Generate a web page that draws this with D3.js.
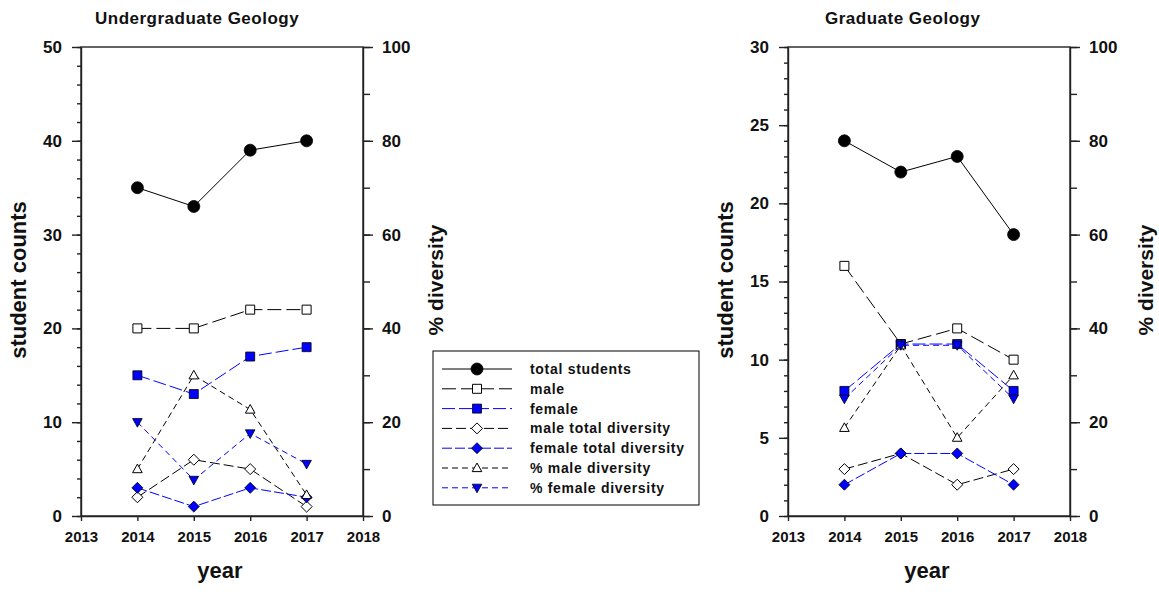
<!DOCTYPE html>
<html>
<head>
<meta charset="utf-8">
<script src="https://cdn.jsdelivr.net/npm/d3@7"></script>
<style>
  body { margin: 0; background: #fff; }
  svg { display: block; }
  text { font-family: Arial, "Liberation Sans", sans-serif; fill: #111; }
</style>
</head>
<body>
<div id="chart"></div>
<script>
// data
var years = [2014, 2015, 2016, 2017];
var yearTicks = [2013, 2014, 2015, 2016, 2017, 2018];

var ugTotal     = [35, 33, 39, 40];
var ugMale      = [20, 20, 22, 22];
var ugFemale    = [15, 13, 17, 18];
var ugMaleDiv   = [2, 6, 5, 1];
var ugFemaleDiv = [3, 1, 3, 2];
var ugPctMale   = [10, 30, 22.7, 4.5];
var ugPctFemale = [20, 7.7, 17.6, 11.1];

var grTotal     = [24, 22, 23, 18];
var grMale      = [16, 11, 12, 10];
var grFemale    = [8, 11, 11, 8];
var grMaleDiv   = [3, 4, 2, 3];
var grFemaleDiv = [2, 4, 4, 2];
var grPctMale   = [18.8, 36.4, 16.7, 30];
var grPctFemale = [25, 36.4, 36.4, 25];

var seriesLabels = ["total students", "male", "female", "male total diversity",
                    "female total diversity", "% male diversity", "% female diversity"];

// styles for each series (same order as labels)
var styles = [
  {color: "#000", dash: null,    shape: "circle",  filled: true,  axis: "left"},
  {color: "#000", dash: "14,5",  shape: "square",  filled: false, axis: "left"},
  {color: "#0000ff", dash: "13,4", shape: "square", filled: true, axis: "left"},
  {color: "#000", dash: "10,4",  shape: "diamond", filled: false, axis: "left"},
  {color: "#0000ff", dash: "10,3", shape: "diamond", filled: true, axis: "left"},
  {color: "#000", dash: "6,4",   shape: "triUp",   filled: false, axis: "right"},
  {color: "#0000ff", dash: "6,4", shape: "triDown", filled: true, axis: "right"}
];

var svg = d3.select("#chart")
  .append("svg")
    .attr("width", 1159)
    .attr("height", 592);

var plotTop = 47, plotBottom = 516;

function markerPath(shape) {
  var p = d3.path();
  if (shape == "circle") { p.arc(0, 0, 6, 0, 2 * Math.PI); }
  else if (shape == "square") { p.rect(-4.5, -4.5, 9, 9); }
  else if (shape == "diamond") { p.moveTo(0, -5.5); p.lineTo(5.5, 0); p.lineTo(0, 5.5); p.lineTo(-5.5, 0); p.closePath(); }
  else if (shape == "triUp") { p.moveTo(0, -5); p.lineTo(4.8, 3.6); p.lineTo(-4.8, 3.6); p.closePath(); }
  else { p.moveTo(0, 5); p.lineTo(4.8, -3.6); p.lineTo(-4.8, -3.6); p.closePath(); }
  return p.toString();
}

function drawMarker(g, shape, filled, color, cx, cy) {
  g.append("path")
    .attr("d", markerPath(shape))
    .attr("transform", "translate(" + cx + "," + cy + ")")
    .attr("fill", filled ? (color == "#000" ? "#000" : "#0000ff") : "#fff")
    .attr("stroke", "#000")
    .attr("stroke-width", filled ? 0.8 : 1);
}

function drawPanel(p) {
  var g = svg.append("g");

  var x = d3.scaleLinear().domain([2013, 2018]).range([p.x0, p.x1]);
  var yL = d3.scaleLinear().domain([0, p.leftMax]).range([plotBottom, plotTop]);
  var yR = d3.scaleLinear().domain([0, 100]).range([plotBottom, plotTop]);

  // frame
  g.append("rect")
    .attr("x", p.x0).attr("y", plotTop)
    .attr("width", p.x1 - p.x0).attr("height", plotBottom - plotTop)
    .attr("fill", "none").attr("stroke", "#222").attr("stroke-width", 1.4);

  // left axis: minor + major
  g.append("g")
    .attr("class", "ax")
    .attr("transform", "translate(" + p.x0 + ",0)")
    .call(d3.axisLeft(yL).tickValues(d3.range(0, p.leftMax + 0.01, p.leftMinor)).tickSize(4).tickFormat(""))
    .call(function(a) { a.select(".domain").remove(); });
  g.append("g")
    .attr("class", "ax")
    .attr("transform", "translate(" + p.x0 + ",0)")
    .call(d3.axisLeft(yL).tickValues(d3.range(0, p.leftMax + 0.01, p.leftMajor)).tickSize(9).tickSizeOuter(0).tickPadding(10))
    .selectAll("text")
      .style("font-size", "17px").style("font-weight", "bold");

  // right axis
  g.append("g")
    .attr("class", "ax")
    .attr("transform", "translate(" + p.x1 + ",0)")
    .call(d3.axisRight(yR).tickValues(d3.range(0, 101, 10)).tickSize(7).tickFormat(""))
    .call(function(a) { a.select(".domain").remove(); });
  g.append("g")
    .attr("class", "ax")
    .attr("transform", "translate(" + p.x1 + ",0)")
    .call(d3.axisRight(yR).tickValues(d3.range(0, 101, 20)).tickSize(10).tickSizeOuter(0).tickPadding(9))
    .selectAll("text")
      .style("font-size", "17px").style("font-weight", "bold");

  // bottom axis
  g.append("g")
    .attr("class", "ax")
    .attr("transform", "translate(0," + plotBottom + ")")
    .call(d3.axisBottom(x).tickValues(yearTicks).tickFormat(d3.format("d")).tickSize(5).tickSizeOuter(0).tickPadding(10))
    .selectAll("text")
      .style("font-size", "15px").style("font-weight", "bold");

  g.selectAll(".ax line, .ax path").attr("stroke", "#222").attr("stroke-width", 1.4);

  // series
  p.data.forEach(function(vals, k) {
    var st = styles[k];
    var y = st.axis == "left" ? yL : yR;
    var line = d3.line()
      .x(function(d, i) { return x(years[i]); })
      .y(function(d) { return y(d); });
    g.append("path")
      .datum(vals)
      .attr("fill", "none")
      .attr("stroke", st.color)
      .attr("stroke-width", 1)
      .attr("stroke-dasharray", st.dash)
      .attr("d", line);
    vals.forEach(function(v, i) {
      drawMarker(g, st.shape, st.filled, st.color, x(years[i]), y(v));
    });
  });

  // titles
  g.append("text")
    .attr("x", p.titleX).attr("y", 24)
    .text(p.title)
    .style("font-size", "17px").style("font-weight", "bold")
    .style("letter-spacing", "0.5px");

  g.append("text")
    .attr("text-anchor", "middle")
    .attr("transform", "translate(" + p.leftLabelX + ",280)rotate(-90)")
    .text("student counts")
    .style("font-size", "22px").style("font-weight", "bold");

  g.append("text")
    .attr("text-anchor", "middle")
    .attr("transform", "translate(" + p.rightLabelX + ",280)rotate(-90)")
    .text("% diversity")
    .style("font-size", "21px").style("font-weight", "bold");

  g.append("text")
    .attr("text-anchor", "middle")
    .attr("x", (p.x0 + p.x1) / 2 - 2).attr("y", 578)
    .text("year")
    .style("font-size", "22px").style("font-weight", "bold");
}

drawPanel({x0: 81, x1: 363, leftMax: 50, leftMajor: 10, leftMinor: 2,
  title: "Undergraduate Geology", titleX: 95, leftLabelX: 26, rightLabelX: 443,
  data: [ugTotal, ugMale, ugFemale, ugMaleDiv, ugFemaleDiv, ugPctMale, ugPctFemale]});

drawPanel({x0: 788, x1: 1070, leftMax: 30, leftMajor: 5, leftMinor: 1,
  title: "Graduate Geology", titleX: 825, leftLabelX: 733, rightLabelX: 1153,
  data: [grTotal, grMale, grFemale, grMaleDiv, grFemaleDiv, grPctMale, grPctFemale]});

// legend
var legend = svg.append("g");
legend.append("rect")
  .attr("x", 433).attr("y", 351)
  .attr("width", 266).attr("height", 154)
  .attr("fill", "#fff").attr("stroke", "#000").attr("stroke-width", 1);

seriesLabels.forEach(function(lab, k) {
  var st = styles[k];
  var ly = 369 + k * 19.8;
  legend.append("line")
    .attr("x1", 442).attr("x2", 512)
    .attr("y1", ly).attr("y2", ly)
    .attr("stroke", st.color)
    .attr("stroke-width", 1)
    .attr("stroke-dasharray", st.dash);
  drawMarker(legend, st.shape, st.filled, st.color, 477, ly);
  legend.append("text")
    .attr("x", 530).attr("y", ly + 5)
    .text(lab)
    .style("font-size", "14px")
    .style("font-weight", "bold")
    .style("letter-spacing", "0.7px");
});
</script>
</body>
</html>
